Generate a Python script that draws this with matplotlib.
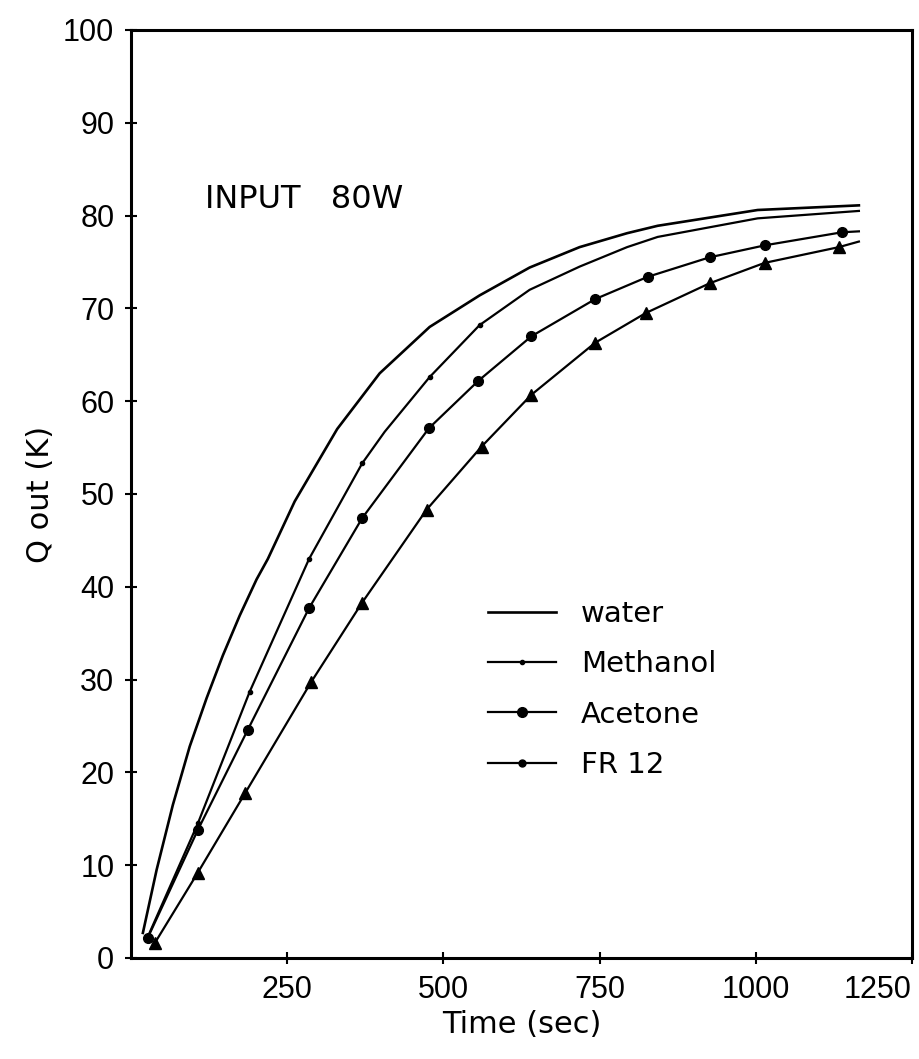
import matplotlib
matplotlib.use("Agg")
import matplotlib.pyplot as plt
from matplotlib.lines import Line2D

# valeurs (temps en s, Q out en K)
water_t = [19, 41, 67, 94, 121, 147, 174, 201, 219, 262, 330, 398, 478, 558, 638, 718, 794, 843, 1003, 1165]
water_q = [2.7, 9.5, 16.5, 22.8, 28.0, 32.6, 36.9, 40.8, 43.0, 49.2, 57.0, 63.0, 68.0, 71.4, 74.4, 76.6, 78.1, 78.9, 80.6, 81.1]

methanol_t = [27, 107, 190, 285, 370, 406, 478, 558, 638, 718, 794, 843, 1003, 1165]
methanol_q = [2.3, 14.5, 28.7, 43.0, 53.3, 56.7, 62.6, 68.2, 72.0, 74.5, 76.6, 77.7, 79.7, 80.5]

acetone_t = [27, 107, 187, 285, 370, 477, 556, 641, 743, 827, 926, 1015, 1138, 1165]
acetone_q = [2.2, 13.8, 24.6, 37.7, 47.4, 57.1, 62.2, 67.0, 71.0, 73.4, 75.5, 76.8, 78.2, 78.3]

fr12_t = [38, 107, 183, 288, 370, 473, 561, 641, 743, 824, 926, 1014, 1133, 1165]
fr12_q = [1.6, 9.2, 17.8, 29.7, 38.3, 48.3, 55.1, 60.7, 66.3, 69.5, 72.7, 74.9, 76.6, 77.2]

labels = ["water", "Methanol", "Acetone", "FR 12"]
x_ticks = [250, 500, 750, 1000, 1250]
y_ticks = list(range(0, 101, 10))

tick_font = ["Liberation Sans", "DejaVu Sans"]
text_font = ["DejaVu Sans"]

fig = plt.figure(figsize=(9.2, 10.59), dpi=100)
ax = fig.add_axes([0.1424, 0.0954, 0.8489, 0.8763])

lw = 1.6
ax.plot(water_t, water_q, color="black", lw=lw + 0.3)
ax.plot(methanol_t, methanol_q, color="black", lw=lw, marker="o", ms=3,
        markevery=[1, 2, 3, 4, 6, 7])
ax.plot(acetone_t, acetone_q, color="black", lw=lw, marker="o", ms=7,
        markevery=list(range(len(acetone_t) - 1)))
ax.plot(fr12_t, fr12_q, color="black", lw=lw, marker="^", ms=8,
        markevery=list(range(len(fr12_t) - 1)))

ax.set_xlim(0, 1250)
ax.set_ylim(0, 100)

ax.set_xticks(x_ticks)
ax.set_xticklabels([str(v) for v in x_ticks])
ax.set_yticks(y_ticks)
ax.set_yticklabels([str(v) for v in y_ticks])
for lab in ax.get_xticklabels() + ax.get_yticklabels():
    lab.set_family(tick_font)
    lab.set_fontsize(22)
ax.get_xticklabels()[-1].set_ha("right")

ax.tick_params(direction="inout", length=8, width=1.5, pad=8)
for sp in ax.spines.values():
    sp.set_linewidth(2.2)

ax.set_xlabel("Time (sec)", fontsize=22, family=text_font, labelpad=4)
ax.set_ylabel("Q out (K)", fontsize=22, family=text_font)
ax.yaxis.set_label_coords(-0.097, 0.5)

ax.text(0.095, 0.817, "INPUT   80W", transform=ax.transAxes, fontsize=23,
        family=text_font, ha="left", va="center")

handles = [
    Line2D([], [], color="black", lw=lw + 0.3),
    Line2D([], [], color="black", lw=lw, marker="o", ms=3),
    Line2D([], [], color="black", lw=lw, marker="o", ms=7),
    Line2D([], [], color="black", lw=lw, marker="o", ms=5),
]
ax.legend(handles, labels, loc="upper left", bbox_to_anchor=(0.457, 0.386),
          frameon=False, borderpad=0, borderaxespad=0, numpoints=1,
          handlelength=2.35, handletextpad=0.85, labelspacing=0.77,
          prop={"family": text_font, "size": 21})

fig.savefig("out.png", dpi=100)
